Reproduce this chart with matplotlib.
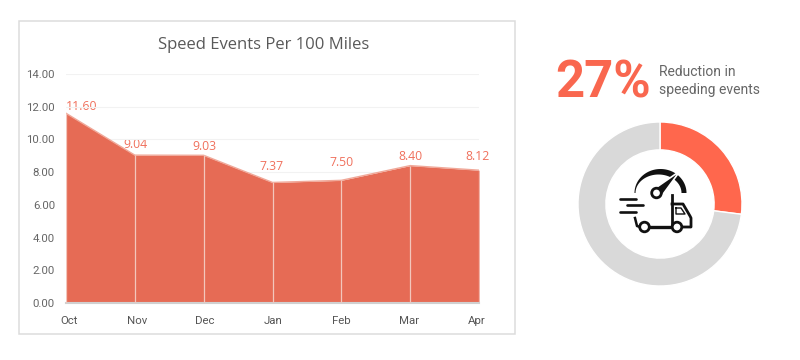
import numpy as np
import matplotlib
matplotlib.use("Agg")
import matplotlib.pyplot as plt
from matplotlib.patches import Rectangle, Circle, Polygon

months = ["Oct", "Nov", "Dec", "Jan", "Feb", "Mar", "Apr"]
events = [11.60, 9.04, 9.03, 7.37, 7.50, 8.40, 8.12]
y_ticks = [0, 2, 4, 6, 8, 10, 12, 14]
title = "Speed Events Per 100 Miles"
donut_values = [27, 73]
headline = "27%"
caption = ["Reduction in", "speeding events"]

W, H = 800, 360
plt.rcParams["font.family"] = ["Roboto", "DejaVu Sans"]
fig = plt.figure(figsize=(W / 100, H / 100), dpi=100, facecolor="white")

def px_axes(x0, y0, x1, y1, **kw):
    return fig.add_axes([x0 / W, 1 - y1 / H, (x1 - x0) / W, (y1 - y0) / H], **kw)

# overlay in pixel coordinates: chart frame and text
bg = px_axes(0, 0, W, H)
bg.set_xlim(0, W); bg.set_ylim(H, 0); bg.axis("off")
bg.add_patch(Rectangle((19, 21), 496, 313, fc="white", ec="#dcdcdc", lw=1.1))

# area chart
ax = px_axes(66, 74, 479, 303)
ax.patch.set_alpha(0)
x = np.arange(len(months))
ax.set_xlim(0, len(months) - 1)
ax.set_ylim(0, 14)
ax.fill_between(x, events, 0, color="#E66B55", lw=0, zorder=2)
ax.plot(x, events, color="#F0A899", lw=1.0, zorder=3)
ax.vlines(x, 0, events, color="#F3C6BC", lw=0.9, zorder=3)
ax.set_yticks(y_ticks)
ax.set_yticklabels([f"{v:.2f}" for v in y_ticks], fontsize=8.2, color="#666666")
ax.set_xticks(x)
ax.set_xticklabels([])
ax.tick_params(axis="both", length=0)
ax.tick_params(axis="y", pad=8)
ax.grid(axis="y", color="#f2f2f2", lw=0.8, zorder=0)
ax.set_axisbelow(True)
for s in ["top", "right", "left"]:
    ax.spines[s].set_visible(False)
ax.spines["bottom"].set_color("#d0d0d0")
ax.spines["bottom"].set_linewidth(1.5)

month_x_px = [69, 137, 205, 273, 341, 409, 477]
for name, mx in zip(months, month_x_px):
    bg.text(mx, 321, name, ha="center", va="center", fontsize=8.2, color="#555555")

label_pos = [(82, 107), (135, 144), (204, 147), (272, 166), (342, 163), (410, 156), (477, 157)]
for v, (lx, ly) in zip(events, label_pos):
    bg.text(lx, ly, f"{v:.2f}", ha="center", va="center", fontsize=8.8, color="#F0705C",
            family=["Open Sans", "DejaVu Sans"], zorder=8)

bg.text(263.5, 45, title, ha="center", va="center", fontsize=12, color="#595959",
        family=["Open Sans", "DejaVu Sans"])

# headline
bg.text(555, 83, headline, ha="left", va="center", fontsize=36.5, fontweight="bold", color="#F9674F")
bg.text(659, 72, caption[0], ha="left", va="center", fontsize=10, color="#666666")
bg.text(659, 90, caption[1], ha="left", va="center", fontsize=10, color="#666666")

# donut
dx = px_axes(578, 122, 742, 286)
dx.pie(donut_values, colors=["#FF674D", "#D9D9D9"], startangle=90, counterclock=False,
       radius=1.0, wedgeprops=dict(width=0.34, edgecolor="white", linewidth=1))
dx.set_xlim(-1, 1); dx.set_ylim(-1, 1)

# truck + gauge icon (decoration, pixel coordinates)
icon = px_axes(0, 0, W, H)
icon.set_xlim(0, W); icon.set_ylim(H, 0); icon.axis("off"); icon.patch.set_alpha(0)
K = "#111111"
t = np.radians(np.linspace(180, 360, 60))
outer = np.c_[660.5 + 26 * np.cos(t), 193 + 24 * np.sin(t)]
inner = np.c_[658.5 + 23 * np.cos(t[::-1]), 193 + 18.5 * np.sin(t[::-1])]
icon.add_patch(Polygon(np.r_[outer, inner], fc=K, ec="none", zorder=2))
icon.add_patch(Polygon([(654, 189), (680, 171), (661, 197)], fc=K, ec="white", lw=1.2, zorder=3))
icon.add_patch(Circle((656.5, 193), 4.8, fc="white", ec=K, lw=2, zorder=4))

for xs, y in [((620, 636), 199), ((627, 643), 205), ((620, 636), 212)]:
    icon.plot(xs, [y, y], color=K, lw=1.9, solid_capstyle="round", zorder=2)

icon.plot([635, 637, 640], [218, 226, 227], color=K, lw=1.8, zorder=2)
icon.plot([650, 672], [227, 227], color=K, lw=2.4, zorder=2)
icon.plot([672, 672], [195, 227], color=K, lw=2, zorder=2)
icon.plot([672, 683, 690, 691, 691, 684], [204, 204, 216, 218, 227, 227], color=K, lw=2,
          zorder=2, solid_joinstyle="round")
icon.plot([676, 681, 685, 676, 676], [208, 208, 214, 214, 208], color=K, lw=1.0, zorder=2)
for cx in (644.5, 677):
    icon.add_patch(Circle((cx, 227), 4.8, fc="white", ec=K, lw=2, zorder=4))

fig.savefig("out.png", dpi=100, facecolor="white")
